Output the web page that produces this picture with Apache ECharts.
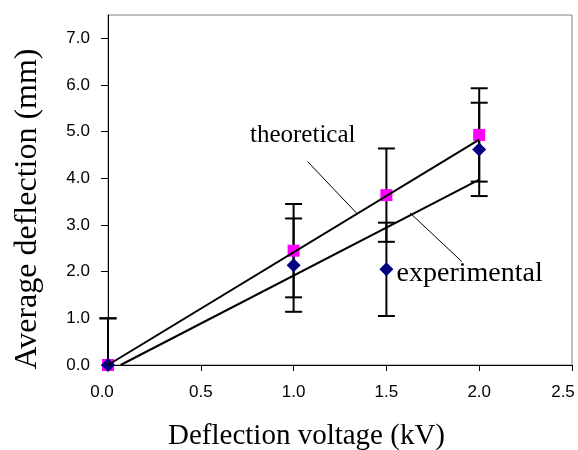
<!DOCTYPE html>
<html><head><meta charset="utf-8">
<script src="https://cdn.jsdelivr.net/npm/echarts@6/dist/echarts.min.js"></script>
<style>html,body{margin:0;padding:0;background:#fff}#c{width:578px;height:450px}</style>
</head><body><div id="c"></div>
<script>
// Data
const voltages = [0, 1.0, 1.5, 2.0];
const theoretical = [0, 2.45, 3.64, 4.93];
const experimental = [0, 2.14, 2.05, 4.62];
const theoreticalErr = [1, 1, 1, 1];
const experimentalErr = [1, 1, 1, 1];
const theoreticalFit = [[0, 0], [2.0, 4.83]];
const experimentalFit = [[0.068, 0], [2.0, 3.97]];
const yTickValues = [0, 1, 2, 3, 4, 5, 6, 7];
const theoLeader = [[1.076, 4.356], [1.343, 3.24]];
const expLeader = [[1.627, 3.26], [1.906, 2.217]];
const theoLabelAt = [[0.765, 4.925, 'theoretical']];
const expLabelAt = [[1.555, 1.968, 'experimental']];

const errData = [];
voltages.forEach((v, i) => {
  errData.push([v, theoretical[i] - theoreticalErr[i], theoretical[i] + theoreticalErr[i]]);
  errData.push([v, experimental[i] - experimentalErr[i], experimental[i] + experimentalErr[i]]);
});

const chart = echarts.init(document.getElementById('c'), null, {renderer: 'canvas'});
const serif = '"Liberation Serif", "Times New Roman", serif';
const sans = '"Liberation Sans", Arial, sans-serif';
const yMin = 0;
const xMin = 0, xMax = 2.5;

chart.setOption({
  animation: false,
  backgroundColor: '#fff',
  grid: {left: 108, right: 6, top: 15, bottom: 85, containLabel: false, outerBoundsMode: 'none',
         show: true, borderColor: '#808080', borderWidth: 1, backgroundColor: 'transparent'},
  xAxis: {
    type: 'value', min: xMin, max: xMax, interval: 0.5,
    axisLine: {show: true, onZero: false, lineStyle: {color: '#000', width: 1}},
    axisTick: {show: true, length: 6, lineStyle: {color: '#000'}},
    axisLabel: {
      margin: 19, fontFamily: sans, fontSize: 17, color: '#000',
      formatter: v => v === xMin ? '{l|' + v.toFixed(1) + '}' : (v === xMax ? '{r|' + v.toFixed(1) + '}' : v.toFixed(1)),
      rich: {
        l: {fontFamily: sans, fontSize: 17, color: '#000', padding: [0, 12, 0, 0]},
        r: {fontFamily: sans, fontSize: 17, color: '#000', padding: [0, 18, 0, 0]}
      }
    },
    splitLine: {show: false}
  },
  yAxis: {
    type: 'value', min: yMin, max: 7.5, interval: 1,
    axisLine: {show: true, lineStyle: {color: '#000', width: 1}},
    axisTick: {show: true, length: 7, customValues: yTickValues, lineStyle: {color: '#000'}},
    axisLabel: {margin: 18, fontFamily: sans, fontSize: 17, color: '#000', customValues: yTickValues, formatter: v => v.toFixed(1)},
    splitLine: {show: false}
  },
  graphic: [
    {type: 'text', x: 306.5, y: 436, style: {text: 'Deflection voltage (kV)', font: '29px ' + serif, fill: '#000', align: 'center', verticalAlign: 'middle'}},
    {type: 'text', x: 28, y: 209, rotation: Math.PI / 2, style: {text: 'Average deflection (mm)', font: '32px ' + serif, fill: '#000', align: 'center', verticalAlign: 'middle'}}
  ],
  series: [
    {
      type: 'custom', z: 2, clip: false,
      data: errData,
      renderItem: function (params, api) {
        const x = api.value(0);
        const rawLo = api.value(1);
        const loClipped = rawLo < yMin;
        const lo = api.coord([x, Math.max(rawLo, yMin)]);
        const hi = api.coord([x, api.value(2)]);
        const hw = 8.5;
        const st = {stroke: '#000', lineWidth: 2};
        const kids = [
          {type: 'line', shape: {x1: lo[0], y1: lo[1], x2: hi[0], y2: hi[1]}, style: st},
          {type: 'line', shape: {x1: hi[0] - hw, y1: hi[1], x2: hi[0] + hw, y2: hi[1]}, style: st}
        ];
        if (!loClipped) kids.push({type: 'line', shape: {x1: lo[0] - hw, y1: lo[1], x2: lo[0] + hw, y2: lo[1]}, style: st});
        return {type: 'group', children: kids};
      }
    },
    {
      type: 'scatter', z: 3, clip: false, symbol: 'rect', symbolSize: 12,
      itemStyle: {color: '#FF00FF', opacity: 1},
      data: voltages.map((v, i) => [v, theoretical[i]])
    },
    {
      type: 'scatter', z: 4, clip: false, symbol: 'diamond', symbolSize: 14,
      itemStyle: {color: '#000080', opacity: 1},
      data: voltages.map((v, i) => [v, experimental[i]])
    },
    {
      type: 'line', z: 5, symbol: 'none', data: theoreticalFit,
      lineStyle: {color: '#000', width: 2}
    },
    {
      type: 'line', z: 5, symbol: 'none', data: experimentalFit,
      lineStyle: {color: '#000', width: 2}
    },
    {
      type: 'line', z: 5, symbol: 'none', data: theoLeader,
      lineStyle: {color: '#000', width: 1}
    },
    {
      type: 'line', z: 5, symbol: 'none', data: expLeader,
      lineStyle: {color: '#000', width: 1}
    },
    {
      type: 'scatter', z: 6, symbolSize: 0, data: theoLabelAt, itemStyle: {opacity: 1},
      label: {show: true, position: 'right', distance: 0, formatter: p => p.value[2], fontFamily: serif, fontSize: 25, color: '#000', opacity: 1}
    },
    {
      type: 'scatter', z: 6, symbolSize: 0, data: expLabelAt, itemStyle: {opacity: 1},
      label: {show: true, position: 'right', distance: 0, formatter: p => p.value[2], fontFamily: serif, fontSize: 28, color: '#000', opacity: 1}
    }
  ]
});
</script>
</body></html>
